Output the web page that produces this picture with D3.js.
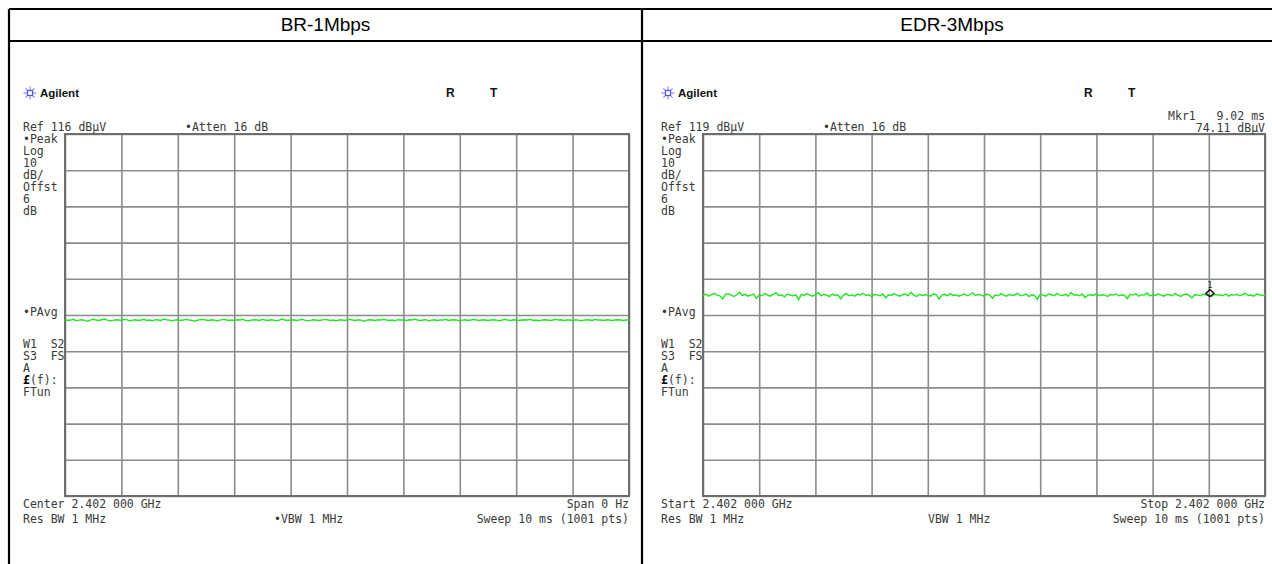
<!DOCTYPE html>
<html><head><meta charset="utf-8">
<script src="https://cdn.jsdelivr.net/npm/d3@7"></script>
<style>
html,body{margin:0;padding:0;background:#fff;}
svg{display:block;}
.mono{font-family:"DejaVu Sans Mono",monospace;font-size:11.5px;fill:#3a3a3a;white-space:pre;}
</style></head>
<body><svg id="c" width="1272" height="564"></svg>
<script>
// ---------- data ----------
const panelTitles = ["BR-1Mbps", "EDR-3Mbps"];
const refLevels = [116, 119];           // dBµV, top of screen
const dbPerDiv = 10;
const divisions = 10;
const sweepMs = 10;                      // x axis span, ms
const sideLabelsTop = ["•Peak", "Log", "10", "dB/", "Offst", "6", "dB"];
const sideLabelAvg = "•PAvg";
const sideLabelsBottom = ["W1  S2", "S3  FS", "A", "£(f):", "FTun"];
const attenLabel = "•Atten 16 dB";
const bottomLeft1 = ["Center 2.402 000 GHz", "Start 2.402 000 GHz"];
const bottomRight1 = ["Span 0 Hz", "Stop 2.402 000 GHz"];
const bottomLeft2 = "Res BW 1 MHz";
const vbwLabels = ["•VBW 1 MHz", "VBW 1 MHz"];
const sweepLabel = "Sweep 10 ms (1001 pts)";
const markerTime = 9.02;                 // ms
const markerLevel = 74.11;               // dBµV
const markerLabels = ["Mkr1   9.02 ms", "74.11 dBµV"];

// trace samples, every 0.05 ms from 0 to 10 ms
const traceBR = [
64.7,64.5,64.6,64.8,64.4,64.6,64.7,64.5,64.3,64.6,
64.8,64.6,64.5,64.7,64.9,64.6,64.4,64.5,64.7,64.6,
64.5,64.8,64.7,64.4,64.6,64.7,64.5,64.6,64.8,64.5,
64.6,64.4,64.7,64.6,64.5,64.9,64.7,64.6,64.4,64.6,
64.7,64.5,64.6,64.8,64.6,64.5,64.3,64.6,64.7,64.8,
64.6,64.5,64.7,64.6,64.4,64.6,64.8,64.7,64.5,64.6,
64.5,64.7,64.6,64.8,64.5,64.4,64.6,64.7,64.6,64.5,
64.8,64.6,64.5,64.7,64.6,64.4,64.6,64.9,64.6,64.5,
64.6,64.7,64.5,64.6,64.8,64.6,64.4,64.5,64.7,64.6,
64.5,64.6,64.8,64.7,64.5,64.6,64.4,64.6,64.7,64.5,
64.6,64.8,64.6,64.5,64.7,64.6,64.3,64.6,64.7,64.6,
64.5,64.7,64.6,64.8,64.6,64.5,64.6,64.4,64.7,64.6,
64.6,64.5,64.7,64.6,64.9,64.6,64.5,64.6,64.7,64.4,
64.6,64.7,64.5,64.6,64.6,64.8,64.5,64.6,64.7,64.6,
64.4,64.6,64.7,64.5,64.6,64.8,64.6,64.5,64.7,64.6,
64.5,64.6,64.7,64.6,64.4,64.6,64.8,64.6,64.5,64.7,
64.6,64.5,64.6,64.7,64.6,64.8,64.5,64.6,64.4,64.6,
64.7,64.6,64.5,64.6,64.8,64.6,64.7,64.5,64.6,64.6,
64.5,64.7,64.6,64.4,64.6,64.7,64.6,64.5,64.8,64.6,
64.6,64.5,64.7,64.6,64.5,64.6,64.7,64.6,64.5,64.6,
64.6];
const traceEDR = [
74.4,74.8,74.2,74.6,75.0,74.5,74.3,73.4,74.7,74.9,
74.5,74.1,74.6,75.3,74.4,74.7,74.2,74.5,74.8,73.6,
74.6,74.3,74.9,74.5,74.2,74.7,75.1,74.4,74.6,74.0,
74.8,74.5,74.3,74.6,73.2,74.7,74.4,74.9,74.5,74.2,
74.6,75.2,74.3,74.7,74.5,74.1,74.8,74.4,74.6,73.5,
74.5,74.9,74.3,74.6,74.2,74.8,74.5,75.0,74.4,74.6,
74.1,74.7,74.5,74.3,74.8,73.7,74.6,74.4,74.9,74.5,
74.2,74.6,74.8,74.3,75.3,74.5,74.1,74.7,74.4,74.6,
74.5,74.2,74.8,74.6,73.4,74.5,74.7,74.3,74.9,74.4,
74.6,74.2,74.5,74.8,74.3,74.6,75.1,74.4,74.7,74.5,
74.2,74.8,74.5,73.6,74.6,74.3,74.9,74.5,74.2,74.7,
74.4,74.6,75.0,74.3,74.5,74.8,74.1,74.6,74.4,73.3,
74.7,74.5,74.2,74.8,74.6,74.3,74.9,74.5,74.4,74.7,
74.2,75.2,74.5,74.6,74.3,74.8,73.8,74.5,74.6,74.4,
74.9,74.3,74.6,74.5,74.1,74.7,74.5,74.8,74.3,74.6,
74.4,73.5,74.7,74.5,74.9,74.2,74.6,74.5,75.1,74.3,
74.6,74.4,74.8,74.5,74.2,74.7,74.6,74.3,74.9,74.5,
74.1,74.6,74.8,74.4,73.7,74.6,74.5,74.3,74.8,74.5,
74.4,74.1,74.7,74.5,74.6,74.3,74.8,74.2,74.6,74.5,
74.7,74.3,74.6,75.0,74.4,74.5,74.2,74.8,74.6,74.4,
74.5];
const traces = [traceBR, traceEDR];

// ---------- layout ----------
const svg = d3.select("#c");
const tbl = {left: 9, mid: 642, right: 1290, top: 9, titleBottom: 41, bottom: 600};
const grids = [
  {x0: 65, x1: 629, y0: 134, y1: 496},
  {x0: 703, x1: 1265, y0: 134, y1: 496}
];

// outer table
const tb = svg.append("g").attr("stroke", "#000").attr("stroke-width", 2.2).attr("fill", "none");
tb.append("line").attr("x1", tbl.left).attr("x2", tbl.right).attr("y1", tbl.top).attr("y2", tbl.top);
tb.append("line").attr("x1", tbl.left).attr("x2", tbl.right).attr("y1", tbl.titleBottom).attr("y2", tbl.titleBottom);
tb.append("line").attr("x1", tbl.left).attr("x2", tbl.left).attr("y1", tbl.top).attr("y2", tbl.bottom);
tb.append("line").attr("x1", tbl.mid).attr("x2", tbl.mid).attr("y1", tbl.top).attr("y2", tbl.bottom);

const titleCenters = [(tbl.left + tbl.mid) / 2, 952];
panelTitles.forEach((t, i) => {
  svg.append("text").attr("x", titleCenters[i]).attr("y", 31)
    .attr("text-anchor", "middle")
    .style("font-family", "'Liberation Sans', Arial, sans-serif")
    .style("font-size", "19px").style("fill", "#000").text(t);
});

function star(g, cx, cy) {
  const s = g.append("g").attr("stroke", "#8a8af5").attr("stroke-width", 1.2);
  for (let k = 0; k < 8; k++) {
    const a = k * Math.PI / 4;
    s.append("line").attr("x1", cx + Math.cos(a) * 3).attr("y1", cy + Math.sin(a) * 3)
      .attr("x2", cx + Math.cos(a) * 6.5).attr("y2", cy + Math.sin(a) * 6.5);
  }
  s.append("rect").attr("x", cx - 2.5).attr("y", cy - 2.5).attr("width", 5).attr("height", 5)
    .attr("fill", "none").attr("stroke", "#5555ee");
}

grids.forEach((gd, i) => {
  const ref = refLevels[i];
  const x = d3.scaleLinear().domain([0, sweepMs]).range([gd.x0, gd.x1]);
  const y = d3.scaleLinear().domain([ref - dbPerDiv * divisions, ref]).range([gd.y1, gd.y0]);
  const g = svg.append("g");

  // grid via axes
  const xAxis = d3.axisBottom(x).ticks(divisions).tickSize(-(gd.y1 - gd.y0)).tickFormat("");
  const yAxis = d3.axisLeft(y).tickValues(d3.range(divisions + 1).map(k => ref - k * dbPerDiv))
    .tickSize(-(gd.x1 - gd.x0)).tickFormat("");
  const gx = g.append("g").attr("transform", `translate(0,${gd.y1})`).call(xAxis);
  const gy = g.append("g").attr("transform", `translate(${gd.x0},0)`).call(yAxis);
  [gx, gy].forEach(a => {
    a.select(".domain").remove();
    a.selectAll(".tick line").attr("stroke", "#8c8c8c").attr("stroke-width", 1.6);
  });
  g.append("rect").attr("x", gd.x0).attr("y", gd.y0).attr("width", gd.x1 - gd.x0).attr("height", gd.y1 - gd.y0)
    .attr("fill", "none").attr("stroke", "#6e6e6e").attr("stroke-width", 2);

  // trace
  const data = traces[i];
  const step = sweepMs / (data.length - 1);
  const line = d3.line().x((d, k) => x(k * step)).y(d => y(d));
  g.append("path").datum(data).attr("d", line).attr("fill", "none")
    .attr("stroke", "#22e622").attr("stroke-width", 1.4);

  // header
  const L = gd.x0 - 42;
  star(g, gd.x0 - 35, 93);
  g.append("text").attr("x", gd.x0 - 25).attr("y", 97)
    .style("font-family", "'Liberation Sans', Arial, sans-serif").style("font-weight", "bold")
    .style("font-size", "11.5px").style("fill", "#111").text("Agilent");
  ["R", "T"].forEach((c, k) => {
    g.append("text").attr("x", gd.x0 + 381 + k * 44).attr("y", 97)
      .style("font-family", "'Liberation Sans', Arial, sans-serif").style("font-weight", "bold")
      .style("font-size", "12px").style("fill", "#111").text(c);
  });
  g.append("text").attr("class", "mono").attr("x", L).attr("y", 131).text(`Ref ${ref} dBµV`);
  g.append("text").attr("class", "mono").attr("x", gd.x0 + 120).attr("y", 131).text(attenLabel);

  // side labels
  sideLabelsTop.forEach((t, k) => {
    g.append("text").attr("class", "mono").attr("x", L).attr("y", 143 + k * 12).text(t);
  });
  g.append("text").attr("class", "mono").attr("x", L).attr("y", 316).text(sideLabelAvg);
  sideLabelsBottom.forEach((t, k) => {
    const tx = g.append("text").attr("class", "mono").attr("x", L).attr("y", 348 + k * 12);
    if (t.startsWith("£")) {
      tx.append("tspan").style("font-weight", "bold").style("fill", "#000").text("£");
      tx.append("tspan").text(t.slice(1));
    } else tx.text(t);
  });

  // bottom labels
  g.append("text").attr("class", "mono").attr("x", L).attr("y", 508).text(bottomLeft1[i]);
  g.append("text").attr("class", "mono").attr("x", gd.x1).attr("y", 508).attr("text-anchor", "end").text(bottomRight1[i]);
  g.append("text").attr("class", "mono").attr("x", L).attr("y", 523).text(bottomLeft2);
  g.append("text").attr("class", "mono").attr("x", i === 0 ? gd.x0 + 209 : gd.x0 + 225).attr("y", 523).text(vbwLabels[i]);
  g.append("text").attr("class", "mono").attr("x", gd.x1).attr("y", 523).attr("text-anchor", "end").text(sweepLabel);

  // marker on EDR panel
  if (i === 1) {
    g.append("text").attr("class", "mono").attr("x", gd.x1).attr("y", 120).attr("text-anchor", "end").text(markerLabels[0]);
    g.append("text").attr("class", "mono").attr("x", gd.x1).attr("y", 132).attr("text-anchor", "end").text(markerLabels[1]);
    const mx = x(markerTime), my = y(markerLevel) - 3;
    g.append("path").attr("d", `M${mx},${my - 4} L${mx + 4},${my} L${mx},${my + 3} L${mx - 4},${my} Z`)
      .attr("fill", "none").attr("stroke", "#111").attr("stroke-width", 1.4);
    g.append("text").attr("x", mx).attr("y", my - 6).attr("text-anchor", "middle")
      .style("font-family", "'DejaVu Sans Mono',monospace").style("font-size", "8px").style("fill", "#222").text("1");
  }
});
</script></body></html>
